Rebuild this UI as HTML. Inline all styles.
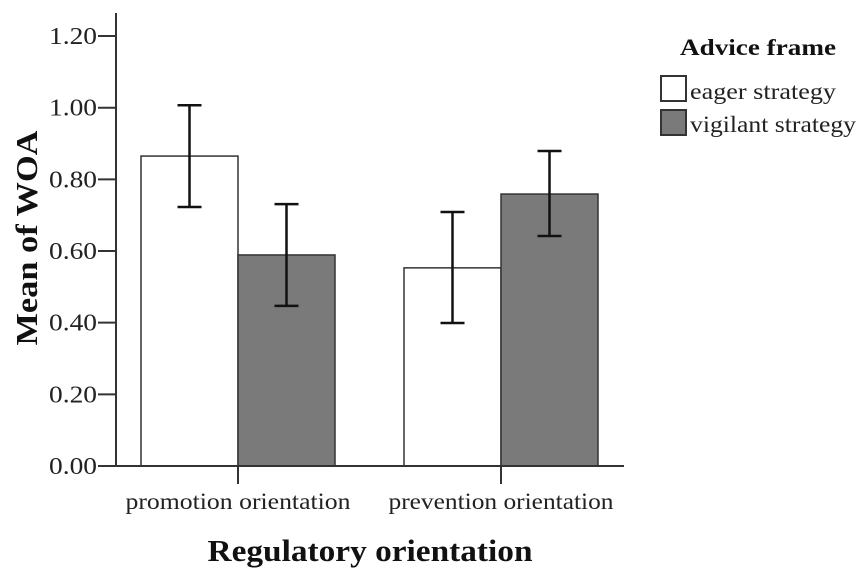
<!DOCTYPE html>
<html><head><meta charset="utf-8"><style>
body{margin:0;background:#fff;}
svg{display:block;font-family:"Liberation Serif",serif;}
</style></head><body>
<svg id="chart" width="866" height="572">
<g id="plot"></g>
</svg>
<script>
const categories=["promotion orientation","prevention orientation"];
const seriesNames=["eager strategy","vigilant strategy"];
const eagerMeans=[0.865,0.553];
const vigilantMeans=[0.589,0.759];
const eagerLow=[0.723,0.399];
const eagerHigh=[1.007,0.709];
const vigilantLow=[0.447,0.642];
const vigilantHigh=[0.731,0.879];
const yTicks=[0,0.2,0.4,0.6,0.8,1.0,1.2];
const yTickLabels=["0.00","0.20","0.40","0.60","0.80","1.00","1.20"];

const NS="http://www.w3.org/2000/svg";
const g=document.getElementById('plot');
const y0=466,pxPer=358.3;
function y(v){return y0-v*pxPer;}
const groupCenter=[238,501];
const barW=97;
function mk(tag,attrs,name){const e=document.createElementNS(NS,tag);for(const k in attrs)e.setAttribute(k,attrs[k]);


g.appendChild(e);return e;}
mk('line',{x1:116,y1:13,x2:116,y2:y0,stroke:'#333','stroke-width':2},'y-axis');
yTicks.forEach((t,i)=>{
 mk('line',{x1:98,y1:y(t),x2:116,y2:y(t),stroke:'#333','stroke-width':2},'y-tick');
 const tx=mk('text',{x:97,y:y(t)+8,'text-anchor':'end','font-size':24,fill:'#222',textLength:48,lengthAdjust:'spacingAndGlyphs'},'y-tick-label');tx.textContent=yTickLabels[i];
});
const series=[{m:eagerMeans,lo:eagerLow,hi:eagerHigh,fill:'#fff',off:-barW},{m:vigilantMeans,lo:vigilantLow,hi:vigilantHigh,fill:'#7a7a7a',off:0}];
series.forEach((s,si)=>{
 categories.forEach((c,ci)=>{
  const x=groupCenter[ci]+s.off;
  mk('rect',{x:x,y:y(s.m[ci]),width:barW,height:y0-y(s.m[ci]),fill:s.fill,stroke:'#333','stroke-width':1.5},'bar-'+(si?'vigilant':'eager')+'-'+ci);
  const cx=x+barW/2;
  mk('line',{x1:cx,y1:y(s.lo[ci]),x2:cx,y2:y(s.hi[ci]),stroke:'#111','stroke-width':2.5},'error-bar');
  mk('line',{x1:cx-12,y1:y(s.lo[ci]),x2:cx+12,y2:y(s.lo[ci]),stroke:'#111','stroke-width':2.5},'error-cap-low');
  mk('line',{x1:cx-12,y1:y(s.hi[ci]),x2:cx+12,y2:y(s.hi[ci]),stroke:'#111','stroke-width':2.5},'error-cap-high');
 });
});
mk('line',{x1:116,y1:y0,x2:624,y2:y0,stroke:'#333','stroke-width':2},'x-axis');
categories.forEach((c,ci)=>{
 mk('line',{x1:groupCenter[ci],y1:y0,x2:groupCenter[ci],y2:484,stroke:'#333','stroke-width':2},'x-tick');
 const t=mk('text',{x:groupCenter[ci],y:509,'text-anchor':'middle','font-size':23,fill:'#222',textLength:225,lengthAdjust:'spacingAndGlyphs'},'x-tick-label');t.textContent=c;
});
</script>
<svg style="position:absolute;left:0;top:0" width="866" height="572">
<text x="370" y="561" text-anchor="middle" font-size="31" font-weight="bold" font-family="Liberation Serif,serif" fill="#111" textLength="325" lengthAdjust="spacingAndGlyphs">Regulatory orientation</text>
<text transform="translate(37,238) rotate(-90)" text-anchor="middle" font-size="31" font-weight="bold" font-family="Liberation Serif,serif" fill="#111" textLength="215" lengthAdjust="spacingAndGlyphs">Mean of WOA</text>
<g font-family="Liberation Serif,serif">
<text x="758" y="55" text-anchor="middle" font-size="23" font-weight="bold" fill="#111" textLength="156" lengthAdjust="spacingAndGlyphs">Advice frame</text>
<rect x="661" y="76" width="25" height="25" fill="#fff" stroke="#333" stroke-width="2"/>
<text x="690" y="99" font-size="23" fill="#222" textLength="146" lengthAdjust="spacingAndGlyphs">eager strategy</text>
<rect x="661" y="110" width="25" height="25" fill="#7a7a7a" stroke="#333" stroke-width="2"/>
<text x="690" y="132" font-size="23" fill="#222" textLength="166" lengthAdjust="spacingAndGlyphs">vigilant strategy</text>
</g>
</svg>
</body></html>
